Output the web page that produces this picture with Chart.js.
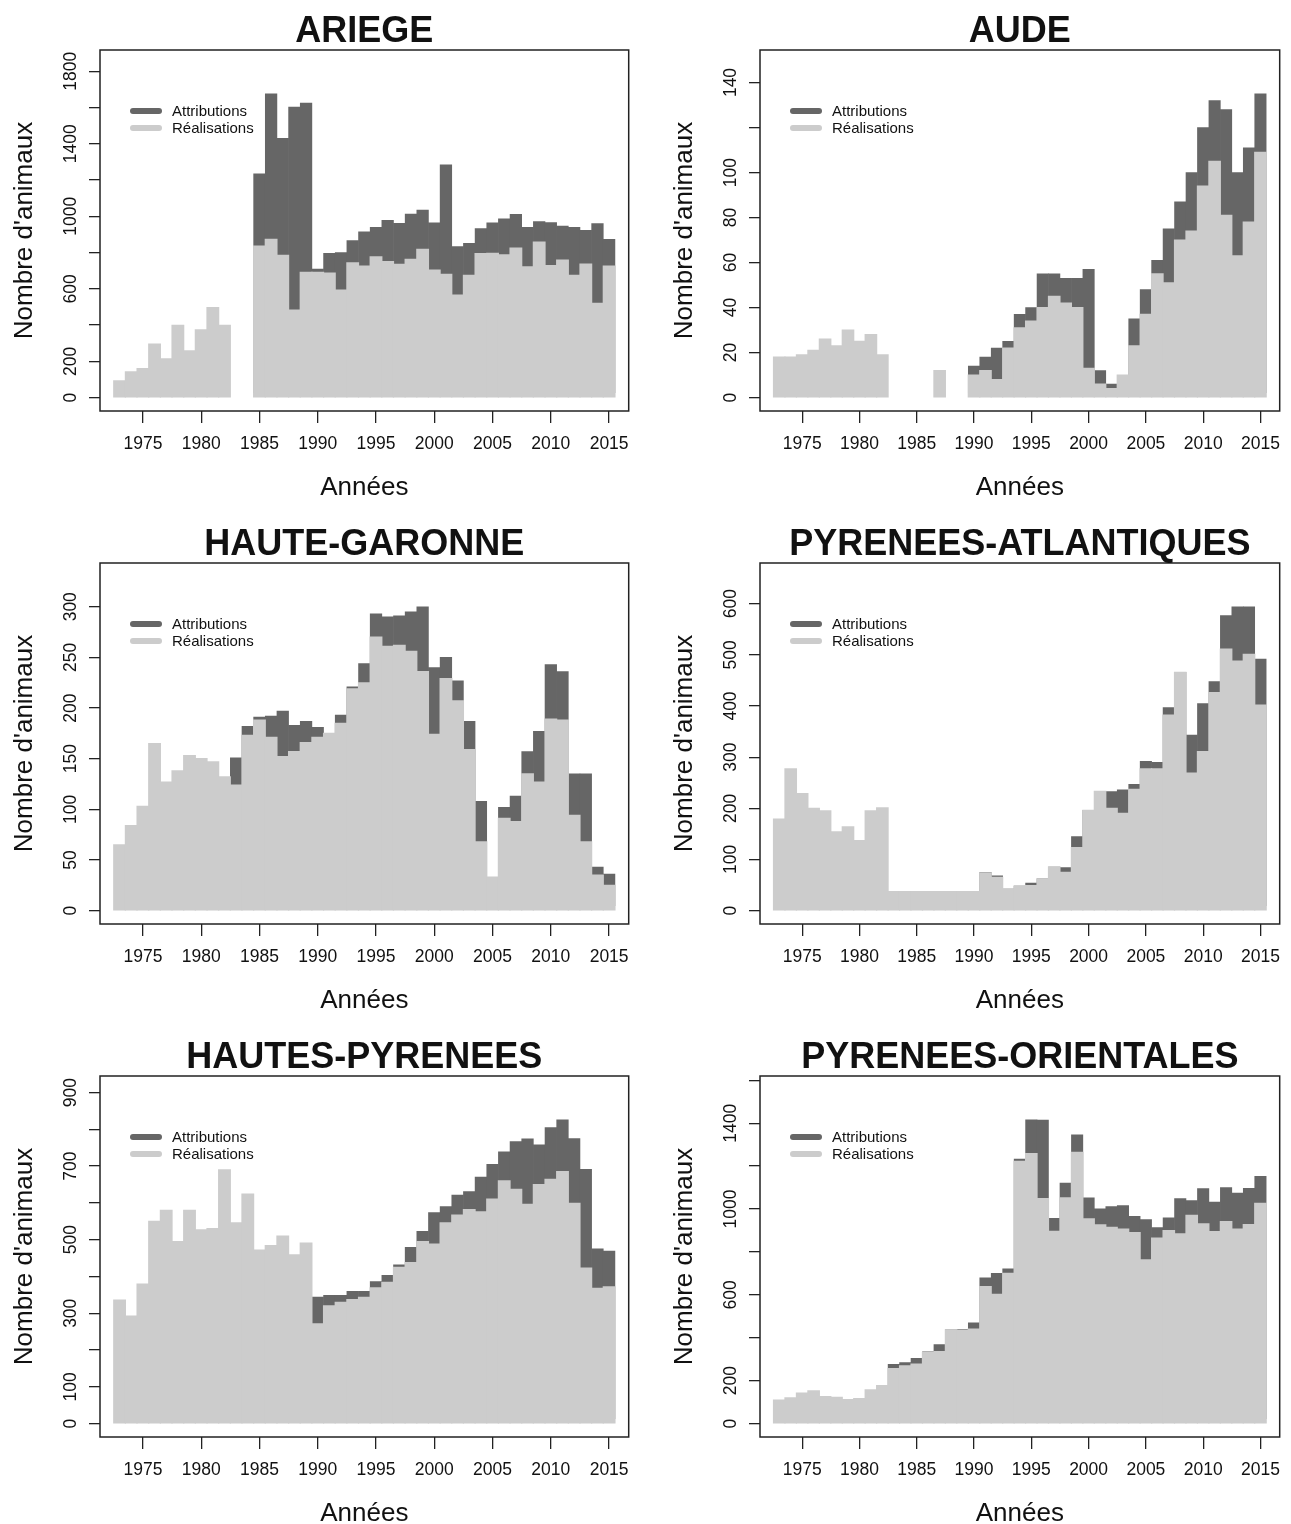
<!DOCTYPE html>
<html><head><meta charset="utf-8">
<script src="https://cdn.jsdelivr.net/npm/chart.js@4.4.1/dist/chart.umd.min.js"></script>
<style>
html,body{margin:0;padding:0;background:#fff;overflow:hidden;width:1291px;height:1524px;}
canvas{position:absolute;display:block;}
</style></head><body>
<canvas id="c0" width="645" height="513" style="left:0;top:0"></canvas>
<canvas id="c1" width="631" height="513" style="left:660px;top:0"></canvas>
<canvas id="c2" width="645" height="513" style="left:0;top:513px"></canvas>
<canvas id="c3" width="631" height="513" style="left:660px;top:513px"></canvas>
<canvas id="c4" width="645" height="498" style="left:0;top:1026px"></canvas>
<canvas id="c5" width="631" height="498" style="left:660px;top:1026px"></canvas>
<script>
// ---------- DATA ----------
const years = [1973,1974,1975,1976,1977,1978,1979,1980,1981,1982,1983,1984,1985,1986,1987,1988,1989,1990,1991,1992,1993,1994,1995,1996,1997,1998,1999,2000,2001,2002,2003,2004,2005,2006,2007,2008,2009,2010,2011,2012,2013,2014,2015];
const xTicks = [1975,1980,1985,1990,1995,2000,2005,2010,2015];

const ariegeReal = [92,142,160,295,214,398,258,374,497,398, null,null, 836,873,785,483,691, 691,687,593,744,726,776,750,735,763,818, 704,680,566,674,794,796,787,825,722,858, 728,759,674,737,520,726];
const ariegeAttr = [null,null,null,null,null,null,null,null,null,null, null,null, 1234,1676,1431,1603,1625, 709,796,800,866,915,940,978,962,1013,1034, 964,1284,833,851,932,964,987,1011,940,971, 965,947,940,923,960,873];
const ariegeYTicks = [0,200,400,600,800,1000,1200,1400,1600,1800];
const ariegeYLabels = ['0','200','','600','','1000','','1400','','1800'];

const audeReal = [18,18,19,21,26,23,30,25,28,19, null,null,null,null,12,null,null, 10,12,8,22,31,34,40,45,42,40, 13,6,4,10,23,37,55,51,70,74, 94,105,81,63,78,109];
const audeAttr = [null,null,null,null,null,null,null,null,null,null, null,null,null,null,null,null,null, 14,18,22,25,37,40,55,55,53,53, 57,12,6,null,35,48,61,75,87,100, 120,132,128,100,111,135];
const audeYTicks = [0,20,40,60,80,100,120,140];
const audeYLabels = ['0','20','40','60','80','100','','140'];

const hgReal = [65,84,103,165,127,138,153,150,147,132, 124,173,188,171,152,157,166, 171,175,185,219,225,270,261,262,256,236, 174,229,207,159,68,33,91,88,135,127, 189,188,94,68,35,25];
const hgAttr = [null,null,null,null,null,null,null,null,null,null, 151,182,191,192,197,183,187, 181,175,193,221,244,293,290,291,295,300, 240,250,227,187,108,33,102,113,157,177, 243,236,135,135,43,36];
const hgYTicks = [0,50,100,150,200,250,300];
const hgYLabels = ['0','50','100','150','200','250','300'];

const paReal = [179,277,229,200,195,154,164,137,195,201, 37,37,37,37,37,37,37, 37,74,65,42,48,49,62,85,75,123, 196,233,200,190,237,277,277,382,466,269, 311,426,511,488,501,402];
const paAttr = [null,null,null,null,null,null,null,null,null,null, null,null,null,null,null,null,null, null,75,68,42,48,54,62,85,84,145, 196,233,233,236,247,292,290,397,466,343, 405,448,577,594,594,492];
const paYTicks = [0,100,200,300,400,500,600];
const paYLabels = ['0','100','200','300','400','500','600'];

const hpReal = [336,292,379,550,580,495,580,527,530,690, 546,624,472,484,510,459,491, 271,320,330,337,343,369,384,425,438,495, 488,546,567,582,576,610,660,637,596,650, 664,685,599,423,368,372];
const hpAttr = [null,null,null,null,null,null,null,null,null,null, null,null,null,null,null,null,null, 344,349,349,360,360,386,403,432,479,523, 574,590,621,631,670,705,739,767,774,758, 805,826,775,691,475,469];
const hpYTicks = [0,100,200,300,400,500,600,700,800,900];
const hpYLabels = ['0','100','','300','','500','','700','','900'];

const poReal = [110,120,142,153,126,123,112,117,157,177, 257,269,277,331,336,437,436, 440,638,602,700,1222,1258,1049,896,1052,1264, 954,926,915,907,890,763,865,900,884,970, 931,895,942,906,928,1027];
const poAttr = [null,null,null,null,null,null,null,null,null,null, 277,285,305,335,369,437,440, 470,679,700,722,1233,1416,1415,957,1121,1346, 1052,1001,1012,1016,966,951,914,959,1049,1040, 1096,1032,1100,1075,1097,1152];
const poYTicks = [0,200,400,600,800,1000,1200,1400,1600];
const poYLabels = ['0','200','','600','','1000','','1400',''];

// ---------- STYLE ----------
const FAM = '"Liberation Sans", Arial, Helvetica, sans-serif';
const DARK = '#666666';
const LIGHT = '#cccccc';
const INK = '#111111';

function makeDecor(title, yTicks, yLabels) {
  return {
    id: 'rDecor',
    afterDraw(chart) {
      const ctx = chart.ctx, a = chart.chartArea, ys = chart.scales.y;
      const cx = (a.left + a.right) / 2, cy = (a.top + a.bottom) / 2;
      ctx.save();
      // box
      ctx.strokeStyle = '#222'; ctx.lineWidth = 1.5;
      ctx.strokeRect(a.left, a.top, a.right - a.left, a.bottom - a.top);
      // y tick labels (rotated, R style)
      ctx.fillStyle = INK;
      ctx.font = '17.5px ' + FAM;
      ctx.textAlign = 'center'; ctx.textBaseline = 'alphabetic';
      yTicks.forEach((v, i) => {
        if (!yLabels[i]) return;
        const py = ys.getPixelForValue(v);
        ctx.save(); ctx.translate(a.left - 24, py); ctx.rotate(-Math.PI / 2);
        ctx.fillText(yLabels[i], 0, 0); ctx.restore();
      });
      // y title
      ctx.font = '26px ' + FAM;
      ctx.save(); ctx.translate(32, cy); ctx.rotate(-Math.PI / 2);
      ctx.fillText("Nombre d'animaux", 0, 0); ctx.restore();
      // x title
      ctx.fillText('Années', cx, a.bottom + 84);
      // panel title
      ctx.font = 'bold 36px ' + FAM;
      ctx.fillText(title, cx, a.top - 8);
      // legend
      const lx = a.left + 30;
      let ly = a.top + 61;
      ctx.font = '15px ' + FAM; ctx.textAlign = 'left'; ctx.textBaseline = 'middle';
      ctx.lineCap = 'round'; ctx.lineWidth = 6;
      chart.data.datasets.forEach(ds => {
        ctx.strokeStyle = ds.backgroundColor;
        ctx.beginPath(); ctx.moveTo(lx + 3, ly); ctx.lineTo(lx + 29, ly); ctx.stroke();
        ctx.fillStyle = INK;
        ctx.fillText(ds.label, lx + 42, ly + 1);
        ly += 17;
      });
      ctx.restore();
    }
  };
}

function makePanel(id, title, attr, real, yTicks, yLabels) {
  const cv = document.getElementById(id);
  const W = cv.width, H = cv.height;
  const vals = attr.concat(real).filter(v => v !== null);
  const top = 1.1 * Math.max(...vals);
  const span = years[years.length - 1] - years[0];
  const gridOpts = (tl) => ({display: true, drawOnChartArea: false, drawTicks: true, tickLength: tl, color: '#222', lineWidth: 1.3, offset: false});
  return new Chart(cv, {
    type: 'bar',
    data: {
      datasets: [
        // dark bars start slightly above zero (hidden under the light bars) so no anti-aliased dark edge shows at the baseline
        {label: 'Attributions', data: years.map((y, i) => ({x: y, y: attr[i]})), backgroundColor: DARK, order: 1, inflateAmount: 0.3, base: 0.015 * top},
        {label: 'Réalisations', data: years.map((y, i) => ({x: y, y: real[i]})), backgroundColor: LIGHT, order: 0, inflateAmount: 0.6}
      ]
    },
    options: {
      responsive: false, animation: false, events: [],
      datasets: {bar: {grouped: false, barPercentage: 1, categoryPercentage: 1, borderWidth: 0}},
      layout: {padding: {left: 40, top: 50, right: W - 628.7, bottom: H - 411 - 60}},
      scales: {
        x: {
          type: 'linear', offset: false,
          min: years[0] - 0.04 * span, max: years[years.length - 1] + 0.04 * span,
          afterBuildTicks: s => { s.ticks = xTicks.map(v => ({value: v})); },
          afterFit: s => { s.height = 60; },
          grid: gridOpts(12), border: {display: false},
          ticks: {font: {family: FAM, size: 17.5}, color: INK, padding: 11, maxRotation: 0, minRotation: 0, autoSkip: false, callback: v => String(v)}
        },
        y: {
          type: 'linear', min: -0.04 * top, max: 1.04 * top,
          afterBuildTicks: s => { s.ticks = yTicks.map(v => ({value: v})); },
          afterFit: s => { s.width = 60; },
          grid: gridOpts(11), border: {display: false},
          ticks: {display: false}
        }
      },
      plugins: {legend: {display: false}, tooltip: {enabled: false}}
    },
    plugins: [makeDecor(title, yTicks, yLabels)]
  });
}

makePanel('c0', 'ARIEGE', ariegeAttr, ariegeReal, ariegeYTicks, ariegeYLabels);
makePanel('c1', 'AUDE', audeAttr, audeReal, audeYTicks, audeYLabels);
makePanel('c2', 'HAUTE-GARONNE', hgAttr, hgReal, hgYTicks, hgYLabels);
makePanel('c3', 'PYRENEES-ATLANTIQUES', paAttr, paReal, paYTicks, paYLabels);
makePanel('c4', 'HAUTES-PYRENEES', hpAttr, hpReal, hpYTicks, hpYLabels);
makePanel('c5', 'PYRENEES-ORIENTALES', poAttr, poReal, poYTicks, poYLabels);
</script>
</body></html>
